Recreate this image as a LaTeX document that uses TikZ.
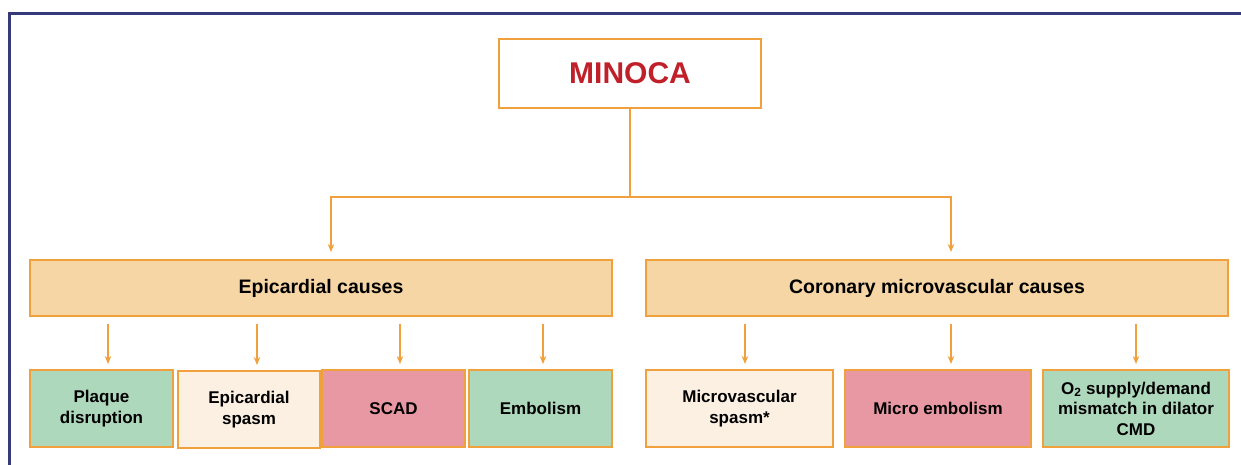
\documentclass[tikz,border=0pt]{standalone}
\usepackage{fontspec}
\setmainfont{Liberation Sans}
\usepackage{tikz}
\usetikzlibrary{arrows.meta}
\definecolor{lineor}{RGB}{240,160,60}
\definecolor{peach}{RGB}{247,214,166}
\definecolor{leafgreen}{RGB}{174,216,188}
\definecolor{leafcream}{RGB}{252,240,226}
\definecolor{leafpink}{RGB}{232,152,162}
\definecolor{minored}{RGB}{192,32,42}
\definecolor{framenavy}{RGB}{54,58,122}

\begin{document}
\begin{tikzpicture}[x=1pt,y=-1pt,
  box/.style={draw=lineor,line width=2pt,align=center,font=\bfseries},
  cause/.style={box,fill=peach,minimum width=582pt,minimum height=56pt,font=\bfseries\fontsize{19.5}{23}\selectfont},
  leaf/.style={box,minimum height=77pt,font=\bfseries\fontsize{17}{20.5}\selectfont},
  arr/.style={draw=lineor,line width=1.6pt,-{Stealth[length=8pt,width=6.5pt]}}]
\useasboundingbox (0,0) rectangle (1241,464);
\draw[framenavy,line width=3pt] (9,470) -- (9,13) -- (1250,13);
\node[box,minimum width=262pt,minimum height=69pt,text=minored,font=\bfseries\fontsize{30}{34}\selectfont] (minoca) at (630,73.5) {MINOCA};
\node[cause] (epi) at (321,288) {Epicardial causes};
\node[cause] (cor) at (937,288) {Coronary microvascular causes};
\node[leaf,fill=leafgreen,minimum width=143pt] (plaque) at (101.5,408.5) {Plaque\\disruption};
\node[leaf,fill=leafcream,minimum width=142pt] (epispasm) at (249,409.5) {Epicardial\\spasm};
\node[leaf,fill=leafpink,minimum width=143pt] (scad) at (393.5,408.5) {SCAD};
\node[leaf,fill=leafgreen,minimum width=143pt] (emb) at (540.5,408.5) {Embolism};
\node[leaf,fill=leafcream,minimum width=187pt] (mspasm) at (739.5,408.5) {Microvascular\\spasm*};
\node[leaf,fill=leafpink,minimum width=186pt] (memb) at (938,408.5) {Micro embolism};
\node[leaf,fill=leafgreen,minimum width=186pt] (otwo) at (1136,408.5) {O\textsubscript{2} supply/demand\\mismatch in dilator\\CMD};
% split under MINOCA
\coordinate (split) at (minoca.south |- 0,197);
\draw[draw=lineor,line width=1.6pt] (minoca.south) -- (split);
\draw[arr,shorten >=7pt] (split) -| ([xshift=10pt]epi.north);
\draw[arr,shorten >=7pt] (split) -| ([xshift=14pt]cor.north);
% second level
\foreach \b/\dx in {plaque/6.5,epispasm/8,scad/6.5,emb/2.5}
  \draw[arr,shorten <=7pt,shorten >=5pt] ([xshift=\dx pt]\b.north |- epi.south) -- ([xshift=\dx pt]\b.north);
\foreach \b/\dx in {mspasm/5.5,memb/13,otwo/0}
  \draw[arr,shorten <=7pt,shorten >=5pt] ([xshift=\dx pt]\b.north |- cor.south) -- ([xshift=\dx pt]\b.north);
\end{tikzpicture}
\end{document}
